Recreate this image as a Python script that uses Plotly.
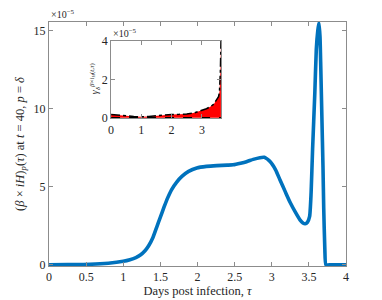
import plotly.graph_objects as go

# Main curve: (beta x iH)_p(tau), units of 1e-5
tau = [0.0, 0.25, 0.55, 0.8, 1.0, 1.09, 1.17, 1.23, 1.29, 1.34, 1.40, 1.45, 1.50, 1.55, 1.60, 1.65,
       1.72, 1.79, 1.88, 1.99, 2.12, 2.26, 2.40, 2.48, 2.58, 2.66, 2.75, 2.84, 2.90, 2.98,
       3.05, 3.11, 3.18, 3.25, 3.32, 3.38, 3.42, 3.45, 3.48, 3.51, 3.53, 3.55, 3.58, 3.60,
       3.62, 3.636, 3.65, 3.66, 3.675, 3.69, 3.70, 3.715, 3.73, 3.8, 3.9, 4.0]
val = [0.0, 0.01, 0.03, 0.10, 0.22, 0.32, 0.45, 0.62, 0.88, 1.2, 1.75, 2.4, 3.05, 3.7, 4.3, 4.8,
       5.3, 5.66, 5.98, 6.2, 6.3, 6.35, 6.38, 6.4, 6.5, 6.6, 6.75, 6.86, 6.88, 6.6,
       6.1, 5.45, 4.7, 3.97, 3.35, 2.88, 2.68, 2.63, 2.72, 3.1, 4.6, 7.4, 11.0, 13.8,
       15.0, 15.5, 14.6, 12.7, 9.5, 6.3, 3.6, 1.0, 0.0, 0.0, 0.0, 0.0]

# Inset: gamma_delta^{beta x iH}(t, tau), units of 1e-5
tau_in = [0.0, 0.25, 0.5, 0.75, 1.0, 1.25, 1.5, 1.75, 2.0, 2.25, 2.5, 2.75, 3.0, 3.15, 3.3, 3.4,
          3.45, 3.5, 3.55, 3.58, 3.6, 3.61, 3.62, 3.63]
val_in = [0.17, 0.15, 0.11, 0.07, 0.05, 0.07, 0.11, 0.15, 0.17, 0.18, 0.2, 0.26, 0.38, 0.47, 0.6,
          0.72, 0.86, 0.98, 1.1, 1.35, 1.8, 2.4, 3.2, 4.0]

blue = "#0072BD"
grey = "#8c8c8c"
font_family = "Liberation Serif"

fig = go.Figure()
fig.add_trace(go.Scatter(x=tau, y=val, mode="lines", line=dict(color=blue, width=3.6, shape="spline", smoothing=0.5),
                         showlegend=False, xaxis="x", yaxis="y"))
fig.add_trace(go.Scatter(x=tau_in, y=val_in, mode="lines", fill="tozeroy", fillcolor="#ff0000",
                         line=dict(color="black", width=1.5, dash="dashdot"),
                         showlegend=False, xaxis="x2", yaxis="y2"))
fig.add_trace(go.Scatter(x=[0, 3.63], y=[0, 0], mode="lines",
                         line=dict(color="black", width=1.5, dash="dash"),
                         showlegend=False, xaxis="x2", yaxis="y2"))

axis_common = dict(showline=True, linecolor=grey, linewidth=1, mirror="ticks", ticks="inside",
                   tickcolor=grey, ticklen=4, showgrid=False, zeroline=False, automargin=False,
                   tickfont=dict(family=font_family, size=12, color="#262626"))

# The page body adds an 8px offset, so the figure is 8px smaller and margins compensate
fig.update_layout(
    width=374, height=292,
    margin=dict(l=41, r=36, t=14, b=34),
    plot_bgcolor="white", paper_bgcolor="white",
    font=dict(family=font_family, color="#262626"),
    xaxis=dict(range=[0, 4], tickvals=[0, 0.5, 1, 1.5, 2, 2.5, 3, 3.5, 4],
               ticktext=["0", "0.5", "1", "1.5", "2", "2.5", "3", "3.5", "4"],
               title=dict(text="Days post infection, <i>τ</i>", font=dict(family=font_family, size=12.5), standoff=2),
               **axis_common),
    yaxis=dict(range=[-0.08, 15.55], tickvals=[0, 5, 10, 15], ticktext=["0", "5", "10", "15"],
               title=dict(text="(<i>β</i> × <i>iH</i>)<sub><i>p</i></sub>(<i>τ</i>) at <i>t</i> = 40, <i>p</i> = <i>δ</i>",
                          font=dict(family=font_family, size=12.5), standoff=6),
               **axis_common),
    xaxis2=dict(domain=[0.209, 0.579], anchor="y2", range=[0, 3.63], tickvals=[0, 1, 2, 3],
                ticktext=["0", "1", "2", "3"], **axis_common),
    yaxis2=dict(domain=[0.605, 0.922], anchor="x2", range=[-0.03, 4.0], tickvals=[0, 2, 4],
                ticktext=["0", "2", "4"], **axis_common),
    annotations=[
        dict(text="×10<sup>−5</sup>", xref="paper", yref="paper", x=0.0, y=1.0, xanchor="left", yanchor="bottom",
             showarrow=False, font=dict(family=font_family, size=10, color="#262626")),
        dict(text="×10<sup>−5</sup>", xref="paper", yref="paper", x=0.209, y=0.922, xanchor="left", yanchor="bottom",
             showarrow=False, font=dict(family=font_family, size=10, color="#262626")),
        dict(text="<i>γ</i><sub><i>δ</i></sub><sup><i>β</i>×<i>i<sub>H</sub></i>(<i>t</i>,<i>τ</i>)</sup>",
             xref="paper", yref="paper", x=0.155, y=0.77, xanchor="center", yanchor="middle",
             textangle=-90, showarrow=False, font=dict(family=font_family, size=10, color="#262626")),
    ],
)

fig.write_html("out.html")
